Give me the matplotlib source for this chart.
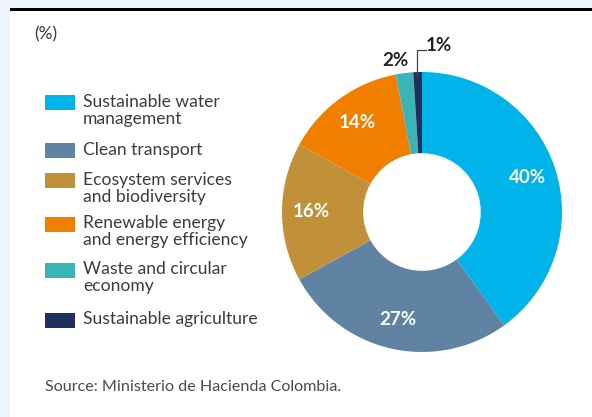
import matplotlib.pyplot as plt
import numpy as np
from matplotlib.patches import Rectangle

# ==== data ====
categories = ["Sustainable water\nmanagement", "Clean transport",
              "Ecosystem services\nand biodiversity",
              "Renewable energy\nand energy efficiency",
              "Waste and circular\neconomy", "Sustainable agriculture"]
shares = [40, 27, 16, 14, 2, 1]
colors = ["#00B4EA", "#6183A3", "#C1913A", "#F07F00", "#3BB4B8", "#1F2F5F"]

plt.rcParams['font.family'] = ['Lato', 'DejaVu Sans']

W, H = 592, 417
fig = plt.figure(figsize=(W / 100, H / 100), dpi=100)
fig.patch.set_facecolor("white")

# pixel-space overlay for frame + legend + texts
bg = fig.add_axes([0, 0, 1, 1])
bg.set_xlim(0, W)
bg.set_ylim(H, 0)
bg.axis("off")
bg.add_patch(Rectangle((0, 0), W, 8, color="#EEF5FC", lw=0))
bg.add_patch(Rectangle((0, 0), 10, H, color="#EEF5FC", lw=0))
bg.add_patch(Rectangle((10, 8), W - 10, 2.5, color="black", lw=0))

txt_col = "#3c3c3c"
bg.text(34, 34, "(%)", fontsize=12.5, color=txt_col, va="center")

# legend drawn by hand so swatch sits on first line
row_y = [102.5, 150.5, 180.5, 224, 270, 320]
for lab, c, y in zip(categories, colors, row_y):
    bg.add_patch(Rectangle((45, y - 7.5), 30, 15, color=c, lw=0))
    bg.text(83, y - 9, lab, fontsize=12.6, color=txt_col,
            va="top", ha="left", linespacing=1.1)

bg.text(45, 387, "Source: Ministerio de Hacienda Colombia.", fontsize=11.6,
        color="#4a4a4a", va="center")

# ==== donut ====
cx, cy, R = 422, 212, 140
ax = fig.add_axes([(cx - R) / W, (H - cy - R) / H, 2 * R / W, 2 * R / H])
wedges, _ = ax.pie(shares, colors=colors, startangle=90, counterclock=False,
                   radius=1, wedgeprops=dict(width=0.58, edgecolor="none"))
ax.set_xlim(-1, 1)
ax.set_ylim(-1, 1)

for w, v in zip(wedges, shares):
    mid = np.deg2rad((w.theta1 + w.theta2) / 2)
    if v >= 10:
        ax.text(0.79 * np.cos(mid), 0.79 * np.sin(mid), f"{v}%", color="white",
                fontsize=13.5, fontweight="bold", ha="center", va="center")

# small slices labelled outside
ax.text(-0.19, 1.08, f"{shares[4]}%", fontsize=13.5, fontweight="bold",
        ha="center", va="center", color="#222222")
ax.plot([-0.035, -0.035, 0.03], [0.96, 1.16, 1.16], color="#444444", lw=0.9,
        clip_on=False)
ax.text(0.03, 1.19, f"{shares[5]}%", fontsize=13.5, fontweight="bold",
        ha="left", va="center", color="#222222")

fig.savefig("out.png", dpi=100)
